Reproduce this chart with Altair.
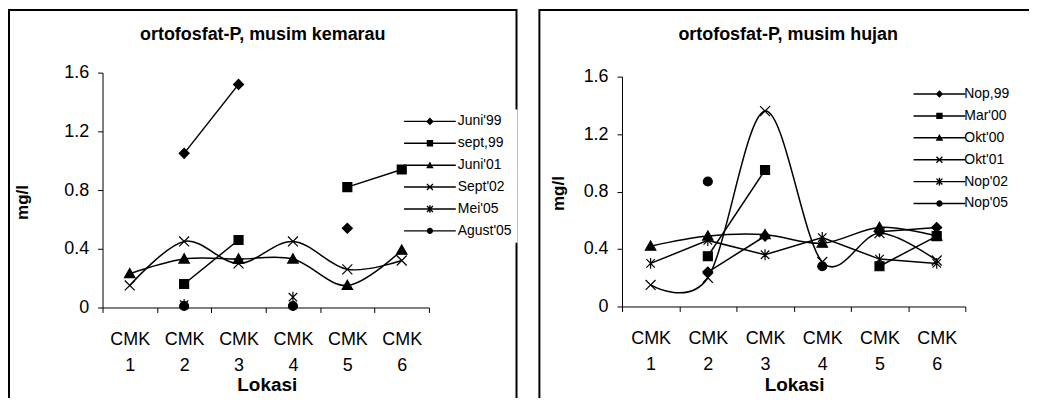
import altair as alt
import pandas as pd

# ---------------- data ----------------
locations = [1, 2, 3, 4, 5, 6]
loc_prefix = "CMK"
y_ticks = [0, 0.4, 0.8, 1.2, 1.6]
x_title = "Lokasi"
y_title = "mg/l"

kemarau_title = "ortofosfat-P, musim kemarau"
kemarau_series = ["Juni'99", "sept,99", "Juni'01", "Sept'02", "Mei'05", "Agust'05"]
kemarau_juni99 = [None, 1.05, 1.52, None, 0.54, None]
kemarau_sept99 = [None, 0.16, 0.46, None, 0.82, 0.94]
kemarau_juni01 = [0.23, 0.33, 0.33, 0.33, 0.15, 0.39]
kemarau_sept02 = [0.15, 0.45, 0.30, 0.45, 0.26, 0.32]
kemarau_mei05 = [None, 0.02, None, 0.07, None, None]
kemarau_agust05 = [None, 0.01, None, 0.01, None, None]
kemarau_smooth = [False, False, True, True, False, False]

hujan_title = "ortofosfat-P, musim hujan"
hujan_series = ["Nop,99", "Mar'00", "Okt'00", "Okt'01", "Nop'02", "Nop'05"]
hujan_nop99 = [None, 0.24, 0.49, None, 0.52, 0.55]
hujan_mar00 = [None, 0.35, 0.95, None, 0.28, 0.49]
hujan_okt00 = [0.42, 0.49, 0.50, 0.44, 0.55, 0.49]
hujan_okt01 = [0.15, 0.20, 1.36, 0.31, 0.51, 0.32]
hujan_nop02 = [0.30, 0.46, 0.36, 0.48, 0.33, 0.30]
hujan_nop05 = [None, 0.87, None, 0.28, None, None]
hujan_smooth = [False, False, True, True, False, False]

# ---------------- styles ----------------
FONT = "Liberation Sans"
marker_paths = [
    "M-1,0L0,-1L1,0L0,1Z",                                   # diamond
    "M-0.9,-0.9L0.9,-0.9L0.9,0.9L-0.9,0.9Z",                 # square
    "M0,-1.05L1.05,0.8L-1.05,0.8Z",                          # triangle
    "M-1,-1L1,1M-1,1L1,-1",                                  # x
    "M-0.85,-0.85L0.85,0.85M-0.85,0.85L0.85,-0.85M0,-1.1L0,1.1",  # asterisk
    "M-0.9,0A0.9,0.9 0 1,0 0.9,0A0.9,0.9 0 1,0 -0.9,0Z",     # circle
]
# legend symbols drawn as filled outlines only (line + marker), all clockwise
LINE = "M-6.5,-0.18L6.5,-0.18L6.5,0.18L-6.5,0.18Z"
X_ARMS = "M-0.63,-0.87L0.87,0.63L0.63,0.87L-0.87,-0.63ZM0.63,-0.87L0.87,-0.63L-0.63,0.87L-0.87,0.63Z"
legend_paths = [
    LINE + "M-0.95,0L0,-0.95L0.95,0L0,0.95Z",
    LINE + "M-0.8,-0.8L0.8,-0.8L0.8,0.8L-0.8,0.8Z",
    LINE + "M0,-0.95L0.95,0.75L-0.95,0.75Z",
    LINE + X_ARMS,
    LINE + X_ARMS + "M-0.17,-0.95L0.17,-0.95L0.17,0.95L-0.17,0.95Z",
    LINE + "M-0.8,0A0.8,0.8 0 1,1 0.8,0A0.8,0.8 0 1,1 -0.8,0Z",
]


def build_frame(series, values, smooth):
    rows = []
    for name, vals, sm in zip(series, values, smooth):
        seg = 0
        prev = False
        for loc, v in zip(locations, vals):
            if v is None:
                if prev:
                    seg += 1
                prev = False
                continue
            rows.append({"series": name, "loc": loc, "value": v,
                         "key": f"{name}-{seg}", "smooth": sm})
            prev = True
    return pd.DataFrame(rows)


def panel(title, series, values, smooth, L):
    df = build_frame(series, values, smooth)
    xs = alt.Scale(domain=[0.5, 6.5], range=L["xr"], nice=False, zero=False)
    ys = alt.Scale(domain=[0, 1.6], range=L["yr"], nice=False, zero=False)
    y_axis = alt.Axis(values=y_ticks, labelExpr="datum.value == 0 ? '0' : format(datum.value, '.1f')",
                      offset=-L["xr"][0], tickSize=5, labelPadding=9, labelFontSize=18,
                      labelFont=FONT, labelColor="black", domainColor="black", tickColor="black",
                      grid=False, title=y_title, titleFont=FONT, titleFontSize=17,
                      titleFontWeight="bold", titleColor="black", titleAngle=270,
                      titleX=L["ytx"], titleY=L["yty"], titleAlign="center",
                      titleBaseline="middle")
    y_enc = alt.Y("value:Q", scale=ys, axis=y_axis)
    x_off = L["yr"][0] - L["H"]
    tick_axis = alt.Axis(values=[0.5, 1.5, 2.5, 3.5, 4.5, 5.5, 6.5], labels=False, tickSize=5,
                         offset=x_off, orient="bottom", domainColor="black", tickColor="black",
                         grid=False, title=None)
    label_axis = alt.Axis(values=locations, ticks=False, domain=False, orient="bottom",
                          offset=x_off, labelExpr="['" + loc_prefix + "', '' + datum.value]",
                          labelLineHeight=26, labelPadding=23, labelFontSize=18, labelFont=FONT,
                          labelColor="black", labelFlush=False, labelOverlap=False, grid=False,
                          title=x_title, titleFont=FONT, titleFontSize=19, titleFontWeight="bold",
                          titleColor="black", titleX=L["xtx"], titleY=L["xty"],
                          titleAlign="center", titleBaseline="middle")
    base = alt.Chart(df)
    smooth_lines = base.transform_filter("datum.smooth").mark_line(
        interpolate="cardinal", color="black", strokeWidth=1.5
    ).encode(x=alt.X("loc:Q", scale=xs, axis=tick_axis), y=y_enc, detail="key:N", order="loc:Q")
    straight_lines = base.transform_filter("!datum.smooth").mark_line(
        color="black", strokeWidth=1.5
    ).encode(x=alt.X("loc:Q", scale=xs, axis=None), y=y_enc, detail="key:N", order="loc:Q")
    points = base.mark_point(filled=True, fill="black", stroke="black", strokeWidth=1.2,
                             opacity=1, size=100).encode(
        x=alt.X("loc:Q", scale=xs, axis=label_axis), y=y_enc,
        shape=alt.Shape("series:N", scale=alt.Scale(domain=series, range=marker_paths),
                        legend=None))
    legend_layer = base.mark_point(filled=True, fill="black", size=0, opacity=1).encode(
        x=alt.X("loc:Q", scale=xs, axis=None), y=y_enc,
        shape=alt.Shape("series:N", scale=alt.Scale(domain=series, range=legend_paths),
                        legend=alt.Legend(title=None, orient="none", legendX=L["lx"],
                                          legendY=L["ly"], symbolSize=64, symbolOpacity=1,
                                          symbolFillColor="black",
                                          labelFontSize=14, labelFont=FONT, labelColor="black",
                                          labelOffset=L["lo"], rowPadding=8, padding=5,
                                          fillColor="white")))
    return alt.layer(smooth_lines, straight_lines, points, legend_layer).resolve_scale(
        shape="independent").resolve_axis(x="independent").properties(
        width=L["W"], height=L["H"],
        title=alt.TitleParams(text=title, font=FONT, fontSize=18, fontWeight="bold",
                              color="black", anchor="middle", frame="group",
                              offset=L["toff"], baseline="middle", dx=L["tdx"]))


left_layout = dict(W=510, H=397, xr=[94, 422], yr=[299, 63], ytx=-80, yty=193,
                   xtx=259, xty=77, lx=411, ly=100, lo=21, toff=-43, tdx=0)
right_layout = dict(W=500, H=397, xr=[83, 428], yr=[298, 67], ytx=-64, yty=184,
                    xtx=256, xty=78, lx=390, ly=72.5, lo=18, toff=-43, tdx=0)

left = panel(kemarau_title, kemarau_series,
             [kemarau_juni99, kemarau_sept99, kemarau_juni01, kemarau_sept02,
              kemarau_mei05, kemarau_agust05], kemarau_smooth, left_layout)
right = panel(hujan_title, hujan_series,
              [hujan_nop99, hujan_mar00, hujan_okt00, hujan_okt01, hujan_nop02, hujan_nop05],
              hujan_smooth, right_layout)

chart = alt.hconcat(left, right, spacing=20).properties(
    padding={"left": 0, "top": 0, "right": -9, "bottom": -9}, background="white"
).resolve_scale(shape="independent").configure_view(stroke="black", strokeWidth=2)

chart.save("out.html", embed_options={"renderer": "svg", "actions": False})
